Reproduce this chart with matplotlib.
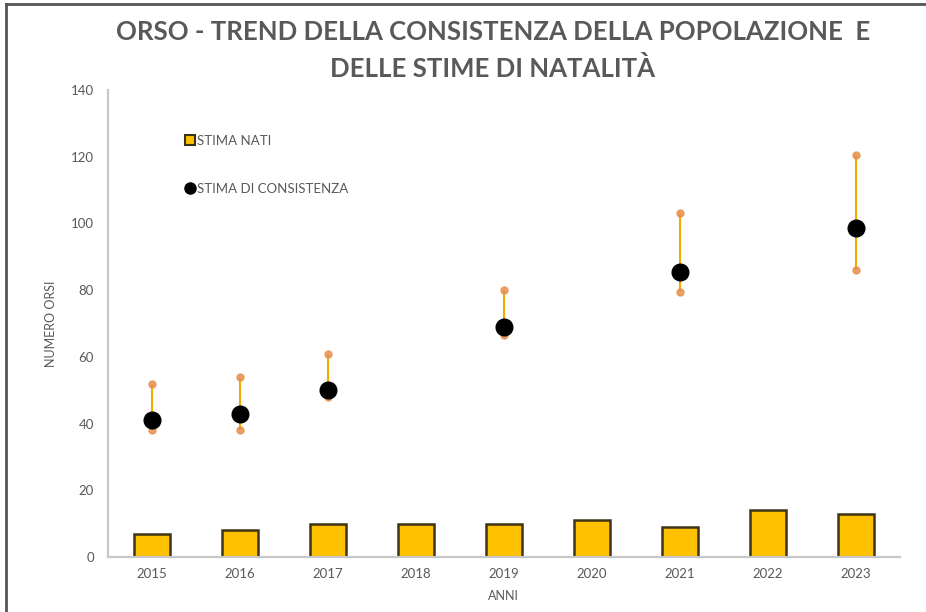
import numpy as np
import matplotlib.pyplot as plt
from matplotlib.lines import Line2D

# data
anni = ['2015', '2016', '2017', '2018', '2019', '2020', '2021', '2022', '2023']
nati = [7, 8, 10, 10, 10, 11, 9, 14, 13]

anni_stima = ['2015', '2016', '2017', '2019', '2021', '2023']
stima = [41, 43, 50, 69, 85.5, 98.5]
stima_min = [38, 38, 48, 66.5, 79.5, 86]
stima_max = [52, 54, 61, 80, 103, 120.5]

plt.rcParams['font.family'] = ['Lato', 'DejaVu Sans']

fig = plt.figure(figsize=(9.26, 6.12), dpi=100)
ax = fig.add_axes([0.1166, 0.0899, 0.855, 0.763])

x = np.arange(len(anni))
ax.bar(x, nati, width=0.41, color='#ffc000', edgecolor='#3d3418', linewidth=1.8, zorder=2)

xs = np.array([anni.index(a) for a in anni_stima])
lo = np.array(stima_min)
hi = np.array(stima_max)
ax.vlines(xs, lo, hi, color='#f2a900', linewidth=1.5, zorder=3)
ax.plot(xs, lo, 'o', color='#e8904c', markersize=5, alpha=0.85, zorder=4)
ax.plot(xs, hi, 'o', color='#e8904c', markersize=5, alpha=0.85, zorder=4)
ax.plot(xs, stima, 'o', color='black', markersize=12, zorder=5)

ax.set_xlim(-0.5, len(anni) - 0.5)
ax.set_ylim(0, 140)
ax.set_yticks(np.arange(0, 141, 20))
ax.set_xticks(x)
ax.set_xticklabels(anni)
ax.tick_params(length=0, colors='#595959', labelsize=9.5)
ax.tick_params(axis='y', pad=10)
ax.tick_params(axis='x', pad=8)
for s in ['top', 'right']:
    ax.spines[s].set_visible(False)
for s in ['left', 'bottom']:
    ax.spines[s].set_color('#c8c8c8')
    ax.spines[s].set_linewidth(1.6)

ax.set_ylabel('NUMERO ORSI', color='#595959', fontsize=9, labelpad=10)
ax.set_xlabel('ANNI', color='#595959', fontsize=9, labelpad=7)

handles = [Line2D([], [], marker='s', linestyle='none', markerfacecolor='#ffc000',
                  markeredgecolor='#3d3418', markeredgewidth=1.5, markersize=7),
           Line2D([], [], marker='o', linestyle='none', color='black', markersize=8)]
leg = ax.legend(handles, ['STIMA NATI', 'STIMA DI CONSISTENZA'], loc='upper left',
                bbox_to_anchor=(0.08, 0.93), frameon=False, labelspacing=2.75,
                handletextpad=0.05, handlelength=1.0, fontsize=9.5)
for t in leg.get_texts():
    t.set_color('#595959')

fig.text(0.532, 0.948, 'ORSO - TREND DELLA CONSISTENZA DELLA POPOLAZIONE  E',
         ha='center', va='center', fontsize=18.5, fontweight='bold', color='#595959')
fig.text(0.532, 0.888, 'DELLE STIME DI NATALITÀ',
         ha='center', va='center', fontsize=18.5, fontweight='bold', color='#595959')

# frame on left and top edge, as in the cropped source image
fig.add_artist(Line2D([0.006, 0.006], [0, 0.994], transform=fig.transFigure, color='#555555', linewidth=2))
fig.add_artist(Line2D([0.006, 1], [0.994, 0.994], transform=fig.transFigure, color='#555555', linewidth=2))

fig.savefig('out.png', dpi=100)
